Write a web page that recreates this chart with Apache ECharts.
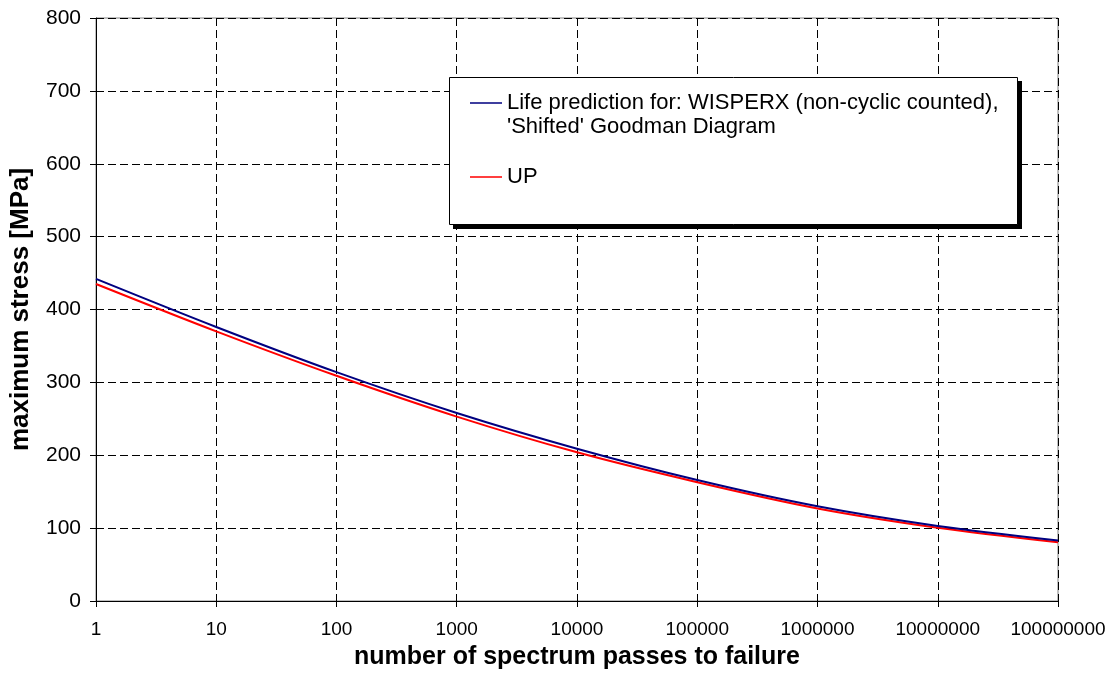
<!DOCTYPE html>
<html>
<head>
<meta charset="utf-8">
<script src="https://cdn.jsdelivr.net/npm/echarts@6/dist/echarts.min.js"></script>
<style>
html,body{margin:0;padding:0;background:#fff;}
#chart{width:1114px;height:679px;}
</style>
</head>
<body>
<div id="chart"></div>
<script>
// ---- data ----
var passes = [1, 10, 100, 1000, 10000, 100000, 1000000, 10000000, 100000000];
var wisperxStress = [442, 376, 314, 258, 209, 166, 130, 103, 83];
var upStress = [435, 370, 309, 253, 204, 163, 127, 100.5, 80.5];
var xTickLabels = ['1', '10', '100', '1000', '10000', '100000', '1000000', '10000000', '100000000'];
var yTicks = [0, 100, 200, 300, 400, 500, 600, 700, 800];
var seriesNames = ["Life prediction for: WISPERX (non-cyclic counted),\n'Shifted' Goodman Diagram", 'UP'];
var xTitle = 'number of spectrum passes to failure';
var yTitle = 'maximum stress [MPa]';

function pairs(xs, ys) { return xs.map(function (x, i) { return [x, ys[i]]; }); }

// legend icons: a short line placed on the first text line (box 32 x 48)
var iconTop = 'path://M0,0H0.01V0.01H0Z M0,11.2H32V12.8H0Z M31.99,47.99H32V48H31.99Z';
var iconMid = 'path://M0,0H0.01V0.01H0Z M0,23.2H32V24.8H0Z M31.99,47.99H32V48H31.99Z';

var FONT = 'Liberation Sans, Arial, sans-serif';
var chart = echarts.init(document.getElementById('chart'), null, { renderer: 'canvas' });
chart.setOption({
  animation: false,
  backgroundColor: '#fff',
  textStyle: { fontFamily: FONT },
  grid: { left: 96, right: 56, top: 18, bottom: 78, show: true, borderColor: '#808080', borderWidth: 1, backgroundColor: 'transparent' },
  xAxis: {
    type: 'log', logBase: 10, min: passes[0], max: passes[passes.length - 1],
    name: xTitle, nameLocation: 'middle', nameGap: 44,
    nameTextStyle: { fontFamily: FONT, fontWeight: 'bold', fontSize: 25, color: '#000' },
    axisLine: { show: true, lineStyle: { color: '#000', width: 1 } },
    axisTick: { show: true, length: 6, lineStyle: { color: '#000' } },
    minorTick: { show: false },
    axisLabel: {
      fontFamily: FONT, fontSize: 19, color: '#000', margin: 19,
      formatter: function (v) { var i = Math.round(Math.log10(v)); return xTickLabels[i] !== undefined ? xTickLabels[i] : ''; }
    },
    splitLine: { show: true, lineStyle: { color: '#000', width: 1, type: [8, 4] } }
  },
  yAxis: {
    type: 'value', min: yTicks[0], max: yTicks[yTicks.length - 1], interval: yTicks[1] - yTicks[0],
    name: yTitle, nameLocation: 'middle', nameGap: 62, nameRotate: 90,
    nameTextStyle: { fontFamily: FONT, fontWeight: 'bold', fontSize: 26, color: '#000' },
    axisLine: { show: true, lineStyle: { color: '#000', width: 1 } },
    axisTick: { show: true, length: 6, lineStyle: { color: '#000' } },
    axisLabel: { fontFamily: FONT, fontSize: 21, color: '#000', margin: 15 },
    splitLine: { show: true, lineStyle: { color: '#000', width: 1, type: [8, 4] } }
  },
  graphic: [
    { type: 'rect', z: 100, shape: { x: 453, y: 81, width: 569, height: 148 }, style: { fill: '#000' } },
    { type: 'rect', z: 101, shape: { x: 449.5, y: 77.5, width: 568, height: 147 }, style: { fill: '#fff', stroke: '#000', lineWidth: 1 } }
  ],
  legend: {
    orient: 'vertical', left: 449, top: 77, z: 102,
    padding: [14, 20, 24, 21],
    itemGap: 14, itemWidth: 32, itemHeight: 48,
    textStyle: { fontFamily: FONT, fontSize: 22, color: '#000', lineHeight: 24 },
    data: [
      { name: seriesNames[0], icon: iconTop },
      { name: seriesNames[1], icon: iconMid }
    ]
  },
  series: [
    { name: seriesNames[0], type: 'line', data: pairs(passes, wisperxStress), showSymbol: false, symbol: 'none', smooth: 0.3, lineStyle: { color: '#000080', width: 2 }, itemStyle: { color: '#000080' }, z: 3 },
    { name: seriesNames[1], type: 'line', data: pairs(passes, upStress), showSymbol: false, symbol: 'none', smooth: 0.3, lineStyle: { color: '#ff0000', width: 2 }, itemStyle: { color: '#ff0000' }, z: 2 }
  ]
});
</script>
</body>
</html>
